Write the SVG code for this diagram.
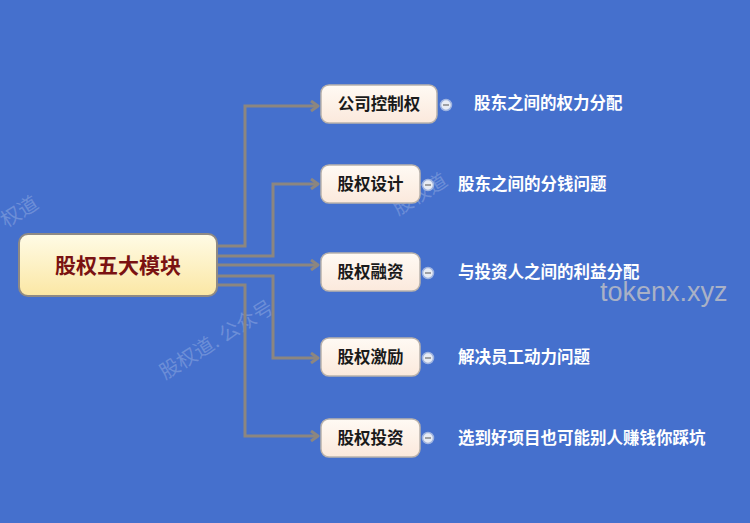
<svg xmlns="http://www.w3.org/2000/svg" width="750" height="523" viewBox="0 0 750 523">
<defs>
<linearGradient id="rootG" x1="0" y1="0" x2="0" y2="1">
<stop offset="0" stop-color="#fffbe6"/>
<stop offset="1" stop-color="#fbe7a4"/>
</linearGradient>
<linearGradient id="nodeG" x1="0" y1="0" x2="0" y2="1">
<stop offset="0" stop-color="#fffaf4"/>
<stop offset="1" stop-color="#fbe9dc"/>
</linearGradient>
<marker id="arr" markerWidth="12" markerHeight="12" refX="9" refY="6" orient="auto" markerUnits="userSpaceOnUse">
<polyline points="2,1 9,6 2,11" fill="none" stroke="#8c8680" stroke-width="3" stroke-linejoin="round"/>
</marker>
<style>
.conn{fill:none;stroke:#8c8680;stroke-width:3;stroke-linejoin:miter}
.node{fill:url(#nodeG);stroke:#b9b2ac;stroke-width:1.5}
.nt{font-family:"Noto Sans CJK SC","Liberation Sans",sans-serif;font-size:16.5px;font-weight:bold;fill:#1a1a1a;text-anchor:middle}
.desc{font-family:"Noto Sans CJK SC","Liberation Sans",sans-serif;font-size:16.5px;font-weight:bold;fill:#ffffff}
.minus{fill:#e8ecf4;stroke:#9fb4e0;stroke-width:1.5}
.wm{font-family:"Noto Sans CJK SC",serif;fill:#ffffff;fill-opacity:0.22;font-size:20px}
</style>
</defs>
<rect width="750" height="523" fill="#4570cd"/>
<!-- watermarks -->
<text class="wm" transform="translate(165,380) rotate(-32)">股权道. 公众号</text>
<text class="wm" transform="translate(6,228) rotate(-32)">权道</text>
<text class="wm" transform="translate(398,216) rotate(-32)">股权道</text>
<text x="600" y="301" font-family="Liberation Sans, sans-serif" font-size="27" fill="#a9b1c6">tokenx.xyz</text>
<g id="connectors">
<path class="conn" d="M217,246 H245 V106 H318" marker-end="url(#arr)"/>
<path class="conn" d="M217,256 H273 V184 H318" marker-end="url(#arr)"/>
<path class="conn" d="M217,265 H318" marker-end="url(#arr)"/>
<path class="conn" d="M217,276 H273 V358 H318" marker-end="url(#arr)"/>
<path class="conn" d="M217,285 H245 V436 H318" marker-end="url(#arr)"/>
</g>
<g id="root">
<rect x="19" y="234" width="198" height="62" rx="9" fill="url(#rootG)" stroke="#8f8a84" stroke-width="2"/>
<text x="118" y="273" font-family="Noto Sans CJK SC, serif" font-size="21" font-weight="bold" fill="#7a1212" text-anchor="middle">股权五大模块</text>
</g>
<g id="n1">
<rect class="node" x="321" y="85" width="116" height="38" rx="8"/>
<text class="nt" x="379" y="110">公司控制权</text>
<circle class="minus" cx="446" cy="105" r="5.5"/>
<line x1="443" y1="105" x2="449" y2="105" stroke="#555" stroke-width="1"/>
<text class="desc" x="474" y="109">股东之间的权力分配</text>
</g>
<g id="n2">
<rect class="node" x="321" y="165" width="99" height="38" rx="8"/>
<text class="nt" x="370.5" y="190">股权设计</text>
<circle class="minus" cx="428" cy="185" r="5.5"/>
<line x1="425" y1="185" x2="431" y2="185" stroke="#555" stroke-width="1"/>
<text class="desc" x="458" y="190">股东之间的分钱问题</text>
</g>
<g id="n3">
<rect class="node" x="321" y="253" width="99" height="38" rx="8"/>
<text class="nt" x="370.5" y="278">股权融资</text>
<circle class="minus" cx="428" cy="273" r="5.5"/>
<line x1="425" y1="273" x2="431" y2="273" stroke="#555" stroke-width="1"/>
<text class="desc" x="458" y="278">与投资人之间的利益分配</text>
</g>
<g id="n4">
<rect class="node" x="321" y="338" width="99" height="38" rx="8"/>
<text class="nt" x="370.5" y="363">股权激励</text>
<circle class="minus" cx="428" cy="358" r="5.5"/>
<line x1="425" y1="358" x2="431" y2="358" stroke="#555" stroke-width="1"/>
<text class="desc" x="458" y="363">解决员工动力问题</text>
</g>
<g id="n5">
<rect class="node" x="321" y="419" width="99" height="38" rx="8"/>
<text class="nt" x="370.5" y="444">股权投资</text>
<circle class="minus" cx="428" cy="438" r="5.5"/>
<line x1="425" y1="438" x2="431" y2="438" stroke="#555" stroke-width="1"/>
<text class="desc" x="458" y="444">选到好项目也可能别人赚钱你踩坑</text>
</g>
</svg>
